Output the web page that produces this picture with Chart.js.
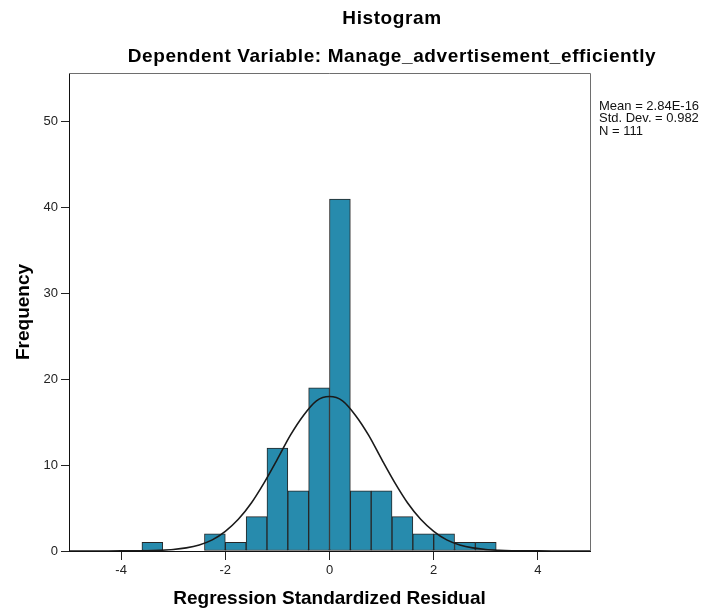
<!DOCTYPE html>
<html>
<head>
<meta charset="utf-8">
<script src="https://cdn.jsdelivr.net/npm/chart.js@4/dist/chart.umd.min.js"></script>
<style>
  html, body { margin: 0; padding: 0; background: #ffffff; }
  #wrap { width: 707px; height: 612px; }
</style>
</head>
<body>
<div id="wrap"><canvas id="c" width="707" height="612"></canvas></div>
<script>
// ---- Data ----
const binCenters = [-3.4, -3.0, -2.6, -2.2, -1.8, -1.4, -1.0, -0.6, -0.2, 0.2, 0.6, 1.0, 1.4, 1.8, 2.2, 2.6, 3.0];
const frequencies = [1, 0, 0, 2, 1, 4, 12, 7, 19, 41, 7, 7, 4, 2, 2, 1, 1];

const curveX = [-5, -4.5, -4, -3.75, -3.5, -3.25, -3, -2.75, -2.5, -2.25, -2, -1.75, -1.5, -1.25, -1, -0.75, -0.5, -0.25, 0,
                0.25, 0.5, 0.75, 1, 1.25, 1.5, 1.75, 2, 2.25, 2.5, 2.75, 3, 3.25, 3.5, 3.75, 4, 4.5, 5];
const curveY = [0, 0, 0.01, 0.01, 0.03, 0.08, 0.17, 0.36, 0.71, 1.3, 2.3, 3.7, 5.6, 8.0, 10.7, 13.5, 15.8, 17.5, 18.0,
                17.5, 15.8, 13.5, 10.7, 8.0, 5.6, 3.7, 2.3, 1.3, 0.71, 0.36, 0.17, 0.08, 0.03, 0.01, 0.01, 0, 0];

const xTickValues = [-4, -2, 0, 2, 4];
const yTickValues = [0, 10, 20, 30, 40, 50];

const titleText = 'Histogram';
const subtitleText = 'Dependent Variable: Manage_advertisement_efficiently';
const xTitle = 'Regression Standardized Residual';
const yTitle = 'Frequency';
const statsLines = ['Mean = 2.84E-16', 'Std. Dev. = 0.982', 'N = 111'];

const FONT = '"Liberation Sans", Arial, Helvetica, sans-serif';

const barData = binCenters.map((x, i) => ({ x: x, y: frequencies[i] }));
const lineData = curveX.map((x, i) => ({ x: x, y: curveY[i] }));

const decor = {
  id: 'decor',
  beforeDatasetsDraw(chart) {
    const { ctx, chartArea: a } = chart;
    ctx.save();
    ctx.strokeStyle = '#6e6e6e';
    ctx.lineWidth = 1;
    ctx.beginPath();
    ctx.moveTo(a.left, a.top + 0.5);
    ctx.lineTo(a.right + 0.5, a.top + 0.5);
    ctx.lineTo(a.right + 0.5, a.bottom);
    ctx.stroke();
    ctx.restore();
  },
  afterDraw(chart) {
    const { ctx, chartArea: a } = chart;
    ctx.save();
    ctx.fillStyle = '#000';
    ctx.textAlign = 'center';
    ctx.textBaseline = 'middle';
    ctx.font = 'bold 19px ' + FONT;
    ctx.letterSpacing = '0.6px';
    ctx.fillText(titleText, 392, 19);
    ctx.fillText(subtitleText, 392, 57);
    ctx.letterSpacing = '0px';
    ctx.fillText(xTitle, (a.left + a.right) / 2, 599);
    ctx.save();
    ctx.translate(24, (a.top + a.bottom) / 2);
    ctx.rotate(-Math.PI / 2);
    ctx.fillText(yTitle, 0, 0);
    ctx.restore();
    ctx.textAlign = 'left';
    ctx.font = '13px ' + FONT;
    ctx.fillStyle = '#111';
    statsLines.forEach((s, i) => ctx.fillText(s, a.right + 9, 106 + i * 12.5));
    ctx.restore();
  }
};

new Chart(document.getElementById('c'), {
  type: 'bar',
  data: {
    datasets: [
      {
        type: 'line',
        data: lineData,
        borderColor: '#1a1a1a',
        borderWidth: 1.6,
        pointRadius: 0,
        fill: false,
        cubicInterpolationMode: 'monotone',
        order: 0
      },
      {
        type: 'bar',
        data: barData,
        backgroundColor: '#278bad',
        borderColor: '#262626',
        borderWidth: 1,
        borderSkipped: false,
        barPercentage: 1,
        categoryPercentage: 1,
        order: 1
      }
    ]
  },
  options: {
    responsive: false,
    animation: false,
    layout: { padding: { top: 73, right: 117, left: 0, bottom: 0 } },
    plugins: { legend: { display: false }, tooltip: { enabled: false }, title: { display: false } },
    scales: {
      x: {
        type: 'linear',
        min: -5,
        max: 5,
        offset: false,
        afterBuildTicks(scale) { scale.ticks = xTickValues.map(v => ({ value: v })); },
        afterFit(scale) { scale.height = 61; },
        grid: { display: true, drawOnChartArea: false, drawTicks: true, tickLength: 9, color: '#222', offset: false },
        border: { display: true, color: '#111', width: 1 },
        ticks: { color: '#222', font: { family: FONT, size: 13 }, padding: 3, maxRotation: 0, autoSkip: false }
      },
      y: {
        type: 'linear',
        min: 0,
        max: 55.7,
        afterBuildTicks(scale) { scale.ticks = yTickValues.map(v => ({ value: v })); },
        afterFit(scale) { scale.width = 69; },
        grid: { display: true, drawOnChartArea: false, drawTicks: true, tickLength: 8, color: '#222' },
        border: { display: true, color: '#111', width: 1 },
        ticks: { color: '#222', font: { family: FONT, size: 13 }, padding: 3 }
      }
    }
  },
  plugins: [decor]
});
</script>
</body>
</html>
